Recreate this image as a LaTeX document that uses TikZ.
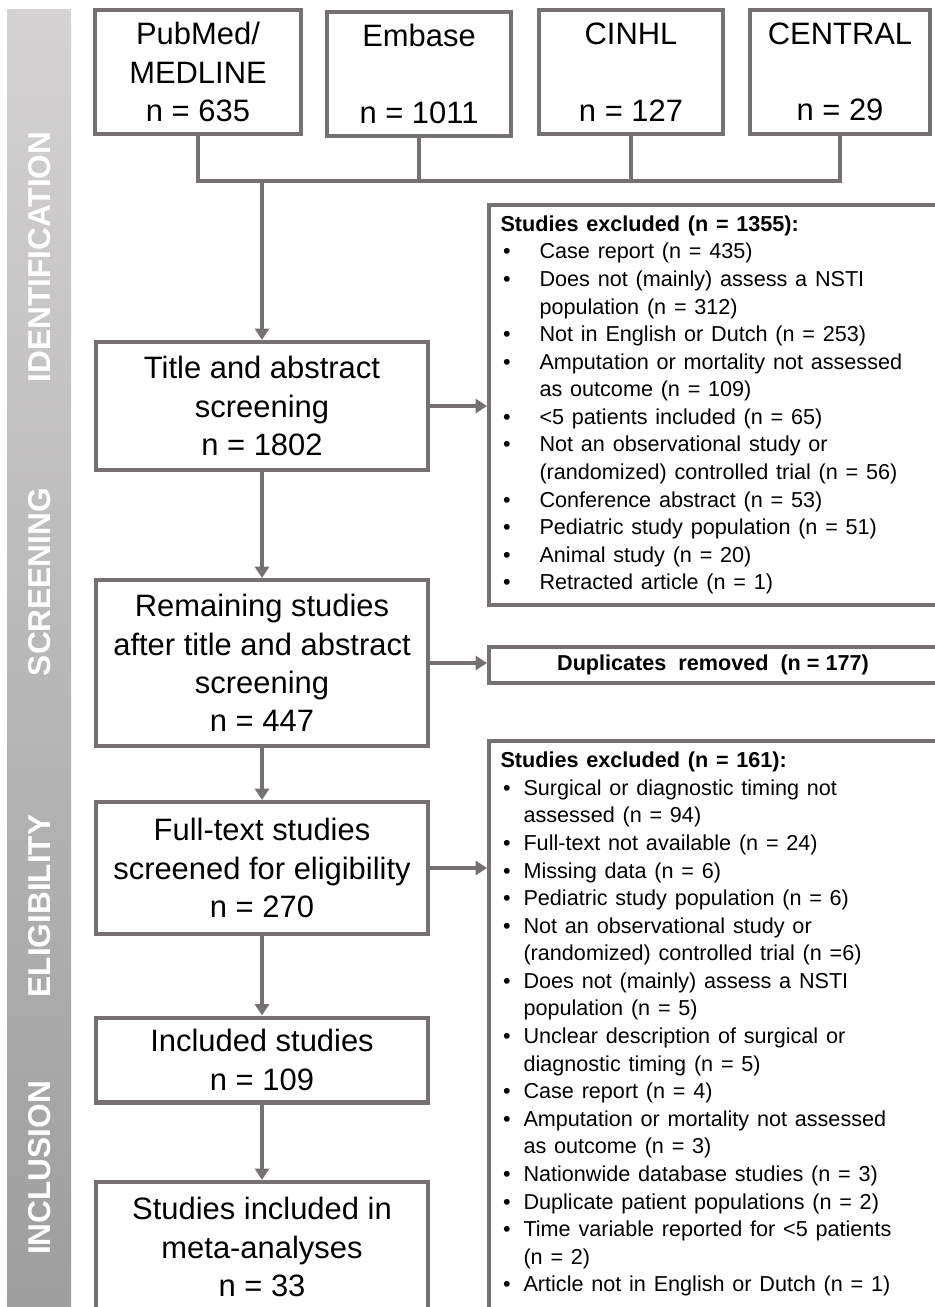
\documentclass[tikz,border=0pt]{standalone}
\usepackage{fontspec}
\setmainfont{Liberation Sans}
\definecolor{flowgray}{RGB}{118,113,113}
\definecolor{barlight}{RGB}{212,210,210}
\definecolor{bardark}{RGB}{158,158,158}
\usetikzlibrary{arrows.meta,positioning,calc}

\newlength{\exind}
\newcommand{\widesp}{\spaceskip=0.36em plus 0.1em\relax}
\newcommand{\exitem}[1]{\par\noindent\hangindent=\exind\hangafter=1\hbox to\exind{\hspace{1.5pt}\textbullet\hfil}#1}

\begin{document}
\begin{tikzpicture}[x=0.02cm, y=-0.02cm,
    box/.style={rectangle, draw=flowgray, line width=2.3pt, fill=white, align=center,
      inner sep=0pt, font=\fontsize{17.6}{21.8}\selectfont},
    exbox/.style={rectangle, draw=flowgray, line width=2.3pt, fill=white, align=left,
      text width=8.5cm, inner xsep=0.2cm, font=\fontsize{12.3}{15.7}\selectfont},
    phase/.style={rotate=90, text=white, font=\fontsize{18}{21}\selectfont\bfseries},
    link/.style={draw=flowgray, line width=2.3pt},
    arr/.style={link, -{Triangle[length=6.5pt,width=8pt]}}
  ]
    \useasboundingbox (0,0) rectangle (935,1307);

    % phase bar on the left
    \shade[top color=barlight, bottom color=bardark] (7,10) rectangle (71,1307);
    \node[phase] (lid)   at (40,257)  {IDENTIFICATION};
    \node[phase] (lscr)  at (40,582)  {SCREENING};
    \node[phase] (lelig) at (40,906)  {ELIGIBILITY};
    \node[phase] (lincl) at (40,1168) {INCLUSION};

    % databases
    \node[box, minimum width=4.12cm, minimum height=2.48cm] (pub) at (198,72)  {PubMed/\\MEDLINE\\n = 635};
    \node[box, minimum width=3.68cm, minimum height=2.48cm] (emb) at (419,74)  {Embase\\~\\n = 1011};
    \node[box, minimum width=3.68cm, minimum height=2.48cm] (cin) at (631,72)  {CINHL\\~\\n = 127};
    \node[box, minimum width=3.60cm, minimum height=2.48cm] (cen) at (840,72)  {CENTRAL\\~\\n = 29};

    \coordinate (join) at (262,181);
    \draw[link] (pub.south) |- (join) -| (cen.south);
    \draw[link] (emb.south) -- (emb.south |- join);
    \draw[link] (cin.south) -- (cin.south |- join);

    % main column
    \node[box, minimum width=6.66cm, minimum height=2.56cm] (title) at (262,406)  {Title and abstract\\screening\\n = 1802};
    \node[box, minimum width=6.66cm, minimum height=3.32cm] (rem)   at (262,663)  {Remaining studies\\after title and abstract\\screening\\n = 447};
    \node[box, minimum width=6.66cm, minimum height=2.64cm] (full)  at (262,868)  {Full-text studies\\screened for eligibility\\n = 270};
    \node[box, minimum width=6.66cm, minimum height=1.70cm] (incl)  at (262,1060) {Included studies\\n = 109};
    \node[box, minimum width=6.66cm, minimum height=2.60cm] (meta)  at (262,1247) {Studies included in\\meta-analyses\\n = 33};

    \draw[arr] (join)       -- (title.north);
    \draw[arr] (title.south) -- (rem.north);
    \draw[arr] (rem.south)   -- (full.north);
    \draw[arr] (full.south)  -- (incl.north);
    \draw[arr] (incl.south)  -- (meta.north);

    % exclusions
    \node[exbox, minimum width=8.96cm, minimum height=8cm] (ex1) at (713,405) {%
      \setlength{\exind}{0.78cm}\widesp
      \textbf{Studies excluded (n = 1355):}
      \exitem{Case report (n = 435)}
      \exitem{Does not (mainly) assess a NSTI\newline population (n = 312)}
      \exitem{Not in English or Dutch (n = 253)}
      \exitem{Amputation or mortality not assessed\newline as outcome (n = 109)}
      \exitem{<5 patients included (n = 65)}
      \exitem{Not an observational study or\newline (randomized) controlled trial (n = 56)}
      \exitem{Conference abstract (n = 53)}
      \exitem{Pediatric study population (n = 51)}
      \exitem{Animal study (n = 20)}
      \exitem{Retracted article (n = 1)}};
    \node[box, minimum width=8.96cm, minimum height=0.72cm, font=\fontsize{12.3}{15}\selectfont\bfseries]
      (dup) at (713,665) {Duplicates\ \ removed\ \ (n = 177)};
    \node[exbox, minimum width=8.96cm, anchor=north, inner ysep=0.22cm] (ex2) at (713,739) {%
      \setlength{\exind}{0.46cm}\widesp
      \textbf{Studies excluded (n = 161):}
      \exitem{Surgical or diagnostic timing not\newline assessed (n = 94)}
      \exitem{Full-text not available (n = 24)}
      \exitem{Missing data (n = 6)}
      \exitem{Pediatric study population (n = 6)}
      \exitem{Not an observational study or\newline (randomized) controlled trial (n =6)}
      \exitem{Does not (mainly) assess a NSTI\newline population (n = 5)}
      \exitem{Unclear description of surgical or\newline diagnostic timing (n = 5)}
      \exitem{Case report (n = 4)}
      \exitem{Amputation or mortality not assessed\newline as outcome (n = 3)}
      \exitem{Nationwide database studies (n = 3)}
      \exitem{Duplicate patient populations (n = 2)}
      \exitem{Time variable reported for <5 patients\newline (n = 2)}
      \exitem{Article not in English or Dutch (n = 1)}\par\hbox{\rule{0pt}{24pt}}};

    \draw[arr] (title.east) -- (title.east -| ex1.west);
    \draw[arr] (rem.east)   -- (rem.east -| dup.west);
    \draw[arr] (full.east)  -- (full.east -| ex2.west);
  \end{tikzpicture}
\end{document}
